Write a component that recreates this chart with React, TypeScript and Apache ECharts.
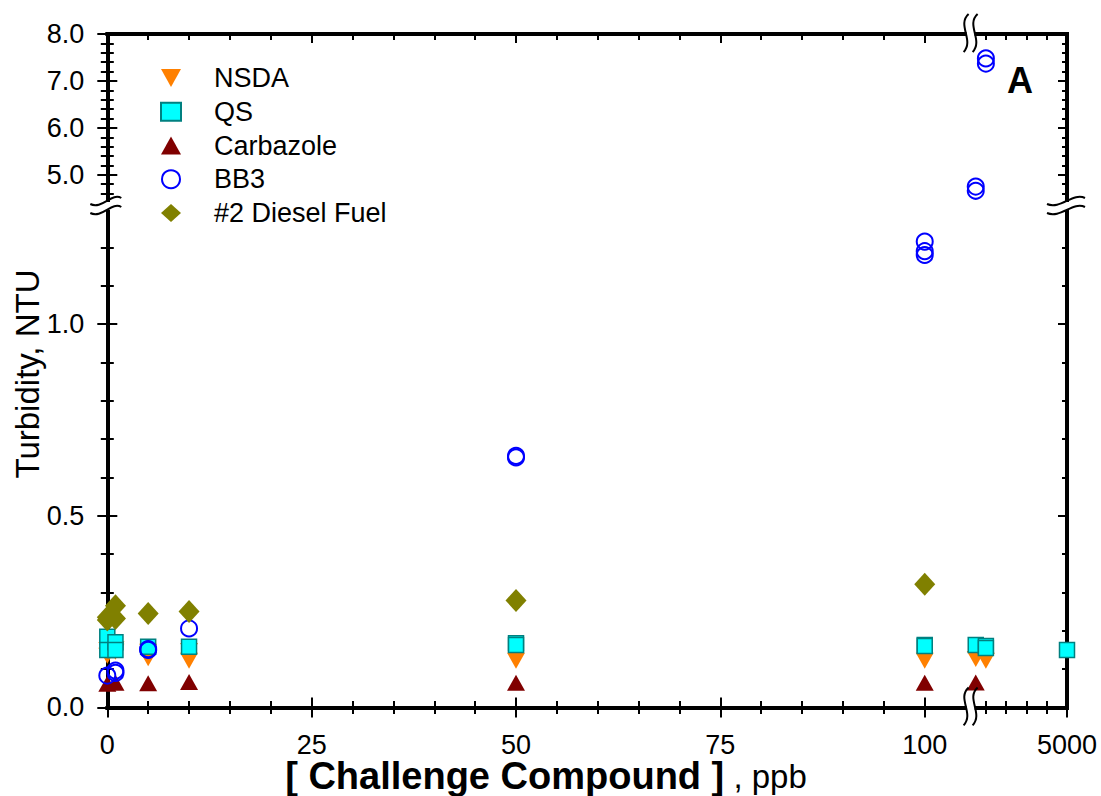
import React, { useEffect, useRef } from 'react';
import * as echarts from 'echarts';

const FONT = '"Liberation Sans", Arial, sans-serif';

// ---------- data (x in ppb, y in NTU) ----------
const seriesNames = ['NSDA', 'QS', 'Carbazole', 'BB3', '#2 Diesel Fuel'];

const nsdaLow = [[0, 0.135], [0, 0.15], [1, 0.145], [1, 0.152], [5, 0.128], [5, 0.145], [10, 0.122], [10, 0.147], [50, 0.122], [100, 0.122]];
const nsdaHighX = [[500, 0.126], [1000, 0.122]];

const qsLow = [[0, 0.184], [0, 0.15], [1, 0.17], [1, 0.15], [5, 0.158], [10, 0.158], [50, 0.167], [50, 0.163], [100, 0.163], [100, 0.16]];
const qsHighX = [[500, 0.163], [1000, 0.16], [1000, 0.155], [5000, 0.15]];

const carbLow = [[0, 0.062], [1, 0.064], [5, 0.063], [10, 0.066], [50, 0.064], [100, 0.064]];
const carbHighX = [[500, 0.065]];

const bb3Low = [[0, 0.083], [1, 0.096], [1, 0.09], [5, 0.152], [5, 0.15], [10, 0.206], [50, 0.656], [50, 0.652], [100, 1.215], [100, 1.19], [100, 1.18]];
const bb3HighXY = [[500, 4.75], [500, 4.66], [1000, 7.48], [1000, 7.37]];

const dieselLow = [[0, 0.235], [0, 0.228], [1, 0.265], [1, 0.232], [5, 0.245], [10, 0.25], [50, 0.279], [100, 0.321]];

// ---------- axis ranges & ticks ----------
const xLowRange = [0, 105];
const xHighRange = [0, 5000];
const yLowRange = [0, 1.3];
const yHighRange = [4.4, 8.0];

const xLowLabels = [0, 25, 50, 75, 100];
const xLowMinor = [5, 10, 15, 20, 30, 35, 40, 45, 55, 60, 65, 70, 80, 85, 90, 95];
const xHighLabels = [5000];
const xHighMinor = [1000, 2000, 3000, 4000];
const yLowLabels = [0, 0.5, 1.0];
const yLowMinor = [0.1, 0.2, 0.3, 0.4, 0.6, 0.7, 0.8, 0.9, 1.1, 1.2];
const yHighLabels = [5, 6, 7, 8];
const yHighMinor = [4.6, 4.8, 5.2, 5.4, 5.6, 5.8, 6.2, 6.4, 6.6, 6.8, 7.2, 7.4, 7.6, 7.8];

// ---------- layout (pixels) ----------
const L = 107.3, SPLIT = 965.6, R = 1067, TOP = 34, HI_BOT = 203, LO_TOP = 209, BOT = 707.4;

const gridBase = { outerBoundsMode: 'none', containLabel: false };
const grids = [
  { ...gridBase, left: L, top: LO_TOP, width: SPLIT - L, height: BOT - LO_TOP },
  { ...gridBase, left: SPLIT, top: LO_TOP, width: R - SPLIT, height: BOT - LO_TOP },
  { ...gridBase, left: L, top: TOP, width: SPLIT - L, height: HI_BOT - TOP },
  { ...gridBase, left: SPLIT, top: TOP, width: R - SPLIT, height: HI_BOT - TOP },
];

const labelStyle = { color: '#000', fontSize: 27, fontFamily: FONT, showMinLabel: true, showMaxLabel: true };

function mainAxis(gridIndex: number, position: string, range: number[], labels: number[] | null, fmt?: (v: number) => string, margin = 24) {
  return {
    type: 'value', gridIndex, position, min: range[0], max: range[1],
    axisLine: { show: true, onZero: false, lineStyle: { color: '#000', width: 4, cap: 'square' } },
    axisTick: { show: false },
    axisLabel: labels
      ? { show: true, ...labelStyle, margin, customValues: labels, formatter: fmt || ((v: number) => String(v)) }
      : { show: false },
    splitLine: { show: false },
  };
}

function tickAxis(gridIndex: number, position: string, range: number[], values: number[], length: number, cross: boolean) {
  return {
    type: 'value', gridIndex, position, min: range[0], max: range[1],
    offset: cross ? -length / 2 : 0,
    axisLine: { show: false, onZero: false },
    axisTick: { show: true, inside: !cross, length, customValues: values, lineStyle: { color: '#000', width: 2 } },
    axisLabel: { show: false },
    splitLine: { show: false },
  };
}

const fmt1 = (v: number) => v.toFixed(1);

const xAxes = [
  mainAxis(0, 'bottom', xLowRange, xLowLabels, undefined, 24),
  mainAxis(1, 'bottom', xHighRange, xHighLabels, undefined, 24),
  mainAxis(2, 'top', xLowRange, null),
  mainAxis(3, 'top', xHighRange, null),
  tickAxis(0, 'bottom', xLowRange, xLowMinor, 13, true),
  tickAxis(0, 'bottom', xLowRange, xLowLabels, 20, true),
  tickAxis(1, 'bottom', xHighRange, xHighMinor, 13, true),
  tickAxis(1, 'bottom', xHighRange, xHighLabels, 20, true),
  tickAxis(2, 'top', xLowRange, xLowMinor, 6, false),
  tickAxis(2, 'top', xLowRange, xLowLabels.slice(1), 9, false),
  tickAxis(3, 'top', xHighRange, xHighMinor, 6, false),
];

const yAxes = [
  mainAxis(0, 'left', yLowRange, yLowLabels, fmt1, 23),
  mainAxis(1, 'right', yLowRange, null),
  mainAxis(2, 'left', yHighRange, yHighLabels, fmt1, 23),
  mainAxis(3, 'right', yHighRange, null),
  tickAxis(0, 'left', yLowRange, yLowMinor, 13, true),
  tickAxis(0, 'left', yLowRange, yLowLabels, 20, true),
  tickAxis(2, 'left', yHighRange, yHighMinor, 13, true),
  tickAxis(2, 'left', yHighRange, yHighLabels, 20, true),
  tickAxis(1, 'right', yLowRange, yLowMinor, 5, false),
  tickAxis(1, 'right', yLowRange, yLowLabels.slice(1), 9, false),
  tickAxis(3, 'right', yHighRange, yHighMinor, 5, false),
  tickAxis(3, 'right', yHighRange, yHighLabels.slice(0, 3), 9, false),
];

const styles: Record<string, any> = {
  NSDA: { symbol: 'path://M0,0L20,0L10,18Z', symbolSize: [18, 16], itemStyle: { color: '#FF8000', opacity: 1 } },
  QS: { symbol: 'rect', symbolSize: 15, itemStyle: { color: '#00FFFF', borderColor: '#008080', borderWidth: 1.5, opacity: 1 } },
  Carbazole: { symbol: 'triangle', symbolSize: [18, 16], itemStyle: { color: '#800000', opacity: 1 } },
  BB3: { symbol: 'circle', symbolSize: 16, itemStyle: { color: 'rgba(0,0,0,0)', borderColor: '#0000FF', borderWidth: 2, opacity: 1 } },
  '#2 Diesel Fuel': { symbol: 'diamond', symbolSize: [21, 23], itemStyle: { color: '#808000', opacity: 1 } },
};

function sc(name: string, xi: number, yi: number, data: number[][]) {
  return { type: 'scatter', name, xAxisIndex: xi, yAxisIndex: yi, data, ...styles[name], emphasis: { disabled: true } };
}

// ---------- break marks ----------
const stroke = { stroke: '#000', lineWidth: 2, fill: 'none' };
function vCurve(x: number, y: number) {
  return { type: 'bezierCurve', z: 101, shape: { x1: x + 3, y1: y - 20, cpx1: x - 9, cpy1: y - 9, cpx2: x + 9, cpy2: y + 6, x2: x - 2, y2: y + 18 }, style: stroke };
}
function hCurve(x: number, y: number, w1: number, w2: number) {
  return { type: 'bezierCurve', z: 101, shape: { x1: x - w1, y1: y + 3, cpx1: x - w1 / 3, cpy1: y + 9, cpx2: x + w2 / 3, cpy2: y - 9, x2: x + w2, y2: y - 3 }, style: stroke };
}
function vBreak(cx: number, cy: number) {
  return [
    { type: 'rect', z: 100, shape: { x: cx + 1, y: cy - 5, width: 8, height: 10 }, style: { fill: '#fff' } },
    vCurve(cx, cy), vCurve(cx + 9, cy),
  ];
}
function hBreak(cx: number, y1: number, w1: number, w2: number) {
  return [
    { type: 'rect', z: 100, shape: { x: cx - 5, y: y1 + 1, width: 10, height: 8 }, style: { fill: '#fff' } },
    hCurve(cx, y1, w1, w2), hCurve(cx, y1 + 9, w1, w2),
  ];
}

export default function App() {
  const ref = useRef<HTMLDivElement>(null);
  useEffect(() => {
    if (!ref.current) return;
    const chart = echarts.init(ref.current, null, { renderer: 'svg' });
    chart.setOption({
      animation: false,
      backgroundColor: '#fff',
      grid: grids,
      xAxis: xAxes,
      yAxis: yAxes,
      legend: {
        orient: 'vertical', left: 160, top: 64.5, padding: 0, itemGap: 6.75,
        itemWidth: 20, itemHeight: 18, selectedMode: false,
        data: seriesNames,
        textStyle: { fontSize: 27, fontFamily: FONT, color: '#000', lineHeight: 27, padding: [0, 0, 0, 28] },
      },
      series: [
        sc('NSDA', 0, 0, nsdaLow), sc('NSDA', 1, 1, nsdaHighX),
        sc('QS', 0, 0, qsLow), sc('QS', 1, 1, qsHighX),
        sc('Carbazole', 0, 0, carbLow), sc('Carbazole', 1, 1, carbHighX),
        sc('BB3', 0, 0, bb3Low), sc('BB3', 3, 3, bb3HighXY),
        sc('#2 Diesel Fuel', 0, 0, dieselLow),
      ],
      graphic: [
        ...vBreak(SPLIT, TOP), ...vBreak(SPLIT, BOT),
        ...hBreak(L, 201, 17, 14), ...hBreak(R, 201, 20, 18),
        { type: 'text', x: 1020, y: 80, z: 50, style: { text: 'A', fontSize: 36, fontWeight: 'bold', fontFamily: FONT, fill: '#000', align: 'center', verticalAlign: 'middle' } },
        { type: 'text', x: 27, y: 374, rotation: Math.PI / 2, z: 50, style: { text: 'Turbidity, NTU', fontSize: 33, fontFamily: FONT, fill: '#000', align: 'center', verticalAlign: 'middle' } },
        {
          type: 'text', x: 546, y: 776, z: 50,
          style: {
            text: '{b|[ Challenge Compound ]}{n| , ppb}', fill: '#000', align: 'center', verticalAlign: 'middle',
            rich: {
              b: { fontSize: 38, fontWeight: 'bold', fontFamily: FONT, fill: '#000', lineHeight: 34 },
              n: { fontSize: 33, fontFamily: FONT, fill: '#000', lineHeight: 34 },
            },
          },
        },
      ],
    });
    return () => chart.dispose();
  }, []);
  return <div ref={ref} style={{ position: 'absolute', left: 0, top: 0, width: 1101, height: 796, background: '#fff' }} />;
}
